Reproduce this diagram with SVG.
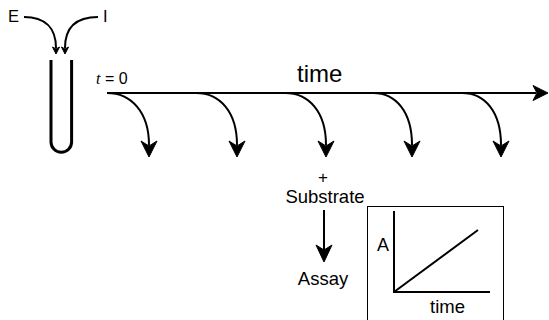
<svg xmlns="http://www.w3.org/2000/svg" width="549" height="320" viewBox="0 0 549 320">
<style>
.ln{fill:none;stroke:#000;stroke-width:2}
.ah{fill:#000;stroke:#000;stroke-width:1;stroke-linejoin:miter}
.t{font-family:"Liberation Sans",Arial,sans-serif;fill:#000}
</style>
<rect width="549" height="320" fill="#fff"/>
<g id="tube">
<path d="M51,60 V142 A10.3,10.3 0 0 0 71.6,142 V60" fill="none" stroke="#000" stroke-width="3"/>
</g>
<g id="label-E"><text class="t" x="8" y="21.5" font-size="16.5">E</text></g>
<g id="label-I"><text class="t" x="103" y="21.5" font-size="16.5">I</text></g>
<g id="label-t0"><text class="t" x="96" y="84" font-size="16"><tspan font-family="Liberation Serif,serif" font-style="italic">t</tspan> = 0</text></g>
<g id="label-time"><text class="t" x="297" y="82" font-size="24">time</text></g>
<g id="label-substrate">
<text class="t" x="323" y="183" font-size="17" text-anchor="middle">+</text>
<text class="t" x="325" y="203" font-size="18.5" text-anchor="middle">Substrate</text>
</g>
<g id="label-assay"><text class="t" x="323" y="285" font-size="18.5" text-anchor="middle">Assay</text></g>
<g id="plot">
<rect x="367.5" y="206.5" width="136" height="130" fill="none" stroke="#000" stroke-width="1"/>
<path class="ln" d="M394,211 V292 H490"/>
<path class="ln" d="M394,292 L478,230"/>
<text class="t" x="377" y="250.5" font-size="18">A</text>
<text class="t" x="430" y="313" font-size="18.5">time</text>
</g>
<g id="connectors">
<path class="ln" d="M24,17 C45,17 56,28 56,48"/>
<path class="ah" d="M56,54 L52.5,47 L56,49 L59.5,47 Z"/>
<path class="ln" d="M98,17 C76,17 65,28 65,48"/>
<path class="ah" d="M65,54 L61.5,47 L65,49 L68.5,47 Z"/>
<path class="ln" d="M107,93 H536"/>
<path class="ah" d="M548,93 L533,85.5 L537,93 L533,100.5 Z"/>
<path class="ln" d="M107,93 C131,93 149,112 149,145"/>
<path class="ah" d="M149,157 L141,141 L149,146 L157,141 Z"/>
<path class="ln" d="M196,93 C220,93 237,112 237,145"/>
<path class="ah" d="M237,157 L229,141 L237,146 L245,141 Z"/>
<path class="ln" d="M285,93 C309,93 326,112 326,145"/>
<path class="ah" d="M326,157 L318,141 L326,146 L334,141 Z"/>
<path class="ln" d="M373,93 C396,93 412,112 412,145"/>
<path class="ah" d="M412,157 L404,141 L412,146 L420,141 Z"/>
<path class="ln" d="M462,93 C485,93 501,112 501,145"/>
<path class="ah" d="M501,157 L493,141 L501,146 L509,141 Z"/>
<path class="ln" d="M324,210 V250"/>
<path class="ah" d="M324,262 L316,245 L324,250 L332,245 Z"/>
</g>
</svg>
